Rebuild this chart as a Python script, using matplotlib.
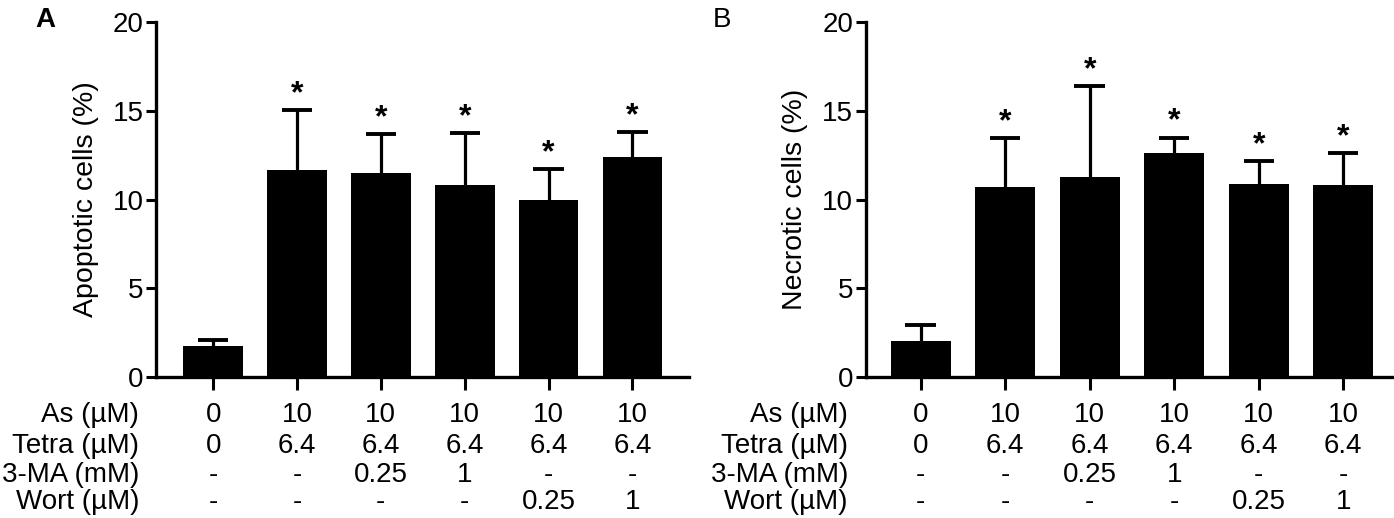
import matplotlib.pyplot as plt
import numpy as np

plt.rcParams["font.family"] = ["Liberation Sans", "DejaVu Sans"]

row_labels = ["As (\u00b5M)", "Tetra (\u00b5M)", "3-MA (mM)", "Wort (\u00b5M)"]
as_dose = ["0", "10", "10", "10", "10", "10"]
tetra_dose = ["0", "6.4", "6.4", "6.4", "6.4", "6.4"]
ma_dose = ["-", "-", "0.25", "1", "-", "-"]
wort_dose = ["-", "-", "-", "-", "0.25", "1"]

apoptotic = [1.75, 11.66, 11.47, 10.8, 9.95, 12.4]
apoptotic_err = [0.33, 3.36, 2.22, 2.95, 1.76, 1.41]
necrotic = [2.04, 10.72, 11.28, 12.62, 10.89, 10.8]
necrotic_err = [0.88, 2.72, 5.1, 0.87, 1.27, 1.8]
significant = [False, True, True, True, True, True]


def draw_panel(ax, values, errors, ylabel, xlim, label_x):
    x = np.arange(len(values))
    tops = np.array(values) + np.array(errors)
    ax.bar(x, values, width=0.71, color="black", zorder=2)
    # error bars go upward only
    ax.vlines(x, values, tops, color="black", linewidth=2.3, zorder=1)
    ax.hlines(tops, x - 0.18, x + 0.18, color="black", linewidth=2.8, zorder=1)
    for xi, t, s in zip(x, tops, significant):
        if s:
            ax.text(xi, t + 0.45, "*", ha="center", va="baseline",
                    fontsize=23, fontweight="bold")

    ax.set_xlim(*xlim)
    ax.set_ylim(0, 20)
    ax.set_yticks([0, 5, 10, 15, 20])
    ax.set_xticks(x)
    ax.set_xticklabels([])
    ax.set_ylabel(ylabel, fontsize=20.5, labelpad=10)
    ax.tick_params(axis="y", labelsize=20, width=2.2, length=7, direction="out", pad=2)
    ax.tick_params(axis="x", width=2.2, length=9, direction="out")
    for side in ["top", "right"]:
        ax.spines[side].set_visible(False)
    for side in ["left", "bottom"]:
        ax.spines[side].set_linewidth(2.4)

    trans = ax.get_xaxis_transform()
    rows = [as_dose, tetra_dose, ma_dose, wort_dose]
    row_y = [-0.108, -0.193, -0.275, -0.352]
    for label, row, y in zip(row_labels, rows, row_y):
        ax.text(label_x, y, label, transform=trans, ha="right", va="center",
                fontsize=20, clip_on=False)
        for xi, t in zip(x, row):
            ax.text(xi, y, t, transform=trans, ha="center", va="center",
                    fontsize=20, clip_on=False)


fig = plt.figure(figsize=(13.94, 5.18), dpi=100)
ax_a = fig.add_axes([0.112, 0.272, 0.382, 0.6855])
ax_b = fig.add_axes([0.621, 0.272, 0.379, 0.6855])

draw_panel(ax_a, apoptotic, apoptotic_err, "Apoptotic cells (%)", (-0.68, 5.67), -0.88)
draw_panel(ax_b, necrotic, necrotic_err, "Necrotic cells (%)", (-0.65, 5.6), -0.86)

fig.text(0.025, 0.962, "A", fontsize=20, fontweight="bold", ha="left", va="center")
fig.text(0.511, 0.962, "B", fontsize=20, ha="left", va="center")

fig.savefig("out.png", dpi=100)
